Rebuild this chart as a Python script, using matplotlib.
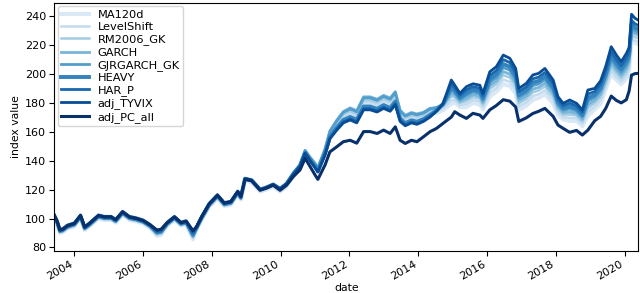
import numpy as np
import pandas as pd
import matplotlib
matplotlib.use("Agg")
import matplotlib.pyplot as plt
import matplotlib.dates as mdates

# decimal-year dates
years = [2003.42, 2003.50, 2003.58, 2003.66, 2003.80, 2004.00, 2004.18, 2004.30, 2004.44, 2004.70,
         2004.87, 2005.07, 2005.20, 2005.40, 2005.60, 2005.80, 2006.00, 2006.20, 2006.40, 2006.52,
         2006.70, 2006.91, 2007.10, 2007.25, 2007.45, 2007.55, 2007.70, 2007.92, 2008.16, 2008.36,
         2008.55, 2008.75, 2008.84, 2008.96, 2009.15, 2009.40, 2009.59, 2009.78, 2009.98, 2010.17,
         2010.37, 2010.56, 2010.71, 2010.85, 2011.00, 2011.08, 2011.29, 2011.43, 2011.63, 2011.82,
         2012.02, 2012.21, 2012.41, 2012.60, 2012.80, 2012.99, 2013.18, 2013.33, 2013.47, 2013.62,
         2013.80, 2013.96, 2014.15, 2014.34, 2014.53, 2014.72, 2014.96, 2015.06, 2015.21, 2015.40,
         2015.59, 2015.79, 2015.88, 2016.08, 2016.27, 2016.47, 2016.66, 2016.83, 2016.92, 2017.14,
         2017.33, 2017.50, 2017.68, 2017.92, 2018.06, 2018.21, 2018.40, 2018.60, 2018.77, 2018.93,
         2019.13, 2019.30, 2019.45, 2019.61, 2019.76, 2019.90, 2020.05, 2020.13, 2020.20, 2020.30,
         2020.39]

MA120d = [100, 96, 90, 90.5, 93, 94.5, 100, 92, 94.5, 100,
          99, 99, 97, 102.5, 99, 98, 96.5, 93.5, 88, 88.5,
          95, 99, 95, 96, 85.5, 92, 99, 108, 114, 108.5,
          109.5, 116.5, 113, 126, 125, 118.5, 120, 122, 118.5, 122,
          130, 135, 145.9, 141, 136.3, 133.3, 145.8, 157.3, 163.9, 169.3,
          171.5, 169.5, 178.8, 178.8, 177.2, 179.8, 177.8, 182.3, 170.3, 167.1,
          169, 168, 169.7, 172.5, 172.8, 174.7, 179, 180.1, 176.7, 176.8,
          179.7, 178.6, 175.2, 184.2, 187.4, 192.8, 191.4, 186.3, 175, 177.8,
          181.8, 183.2, 185.7, 179.3, 171.4, 168.3, 167.3, 167.3, 163.7, 170.7,
          175.3, 179.1, 189.1, 199.8, 195.6, 192.6, 196.4, 201.5, 222.1, 221,
          220.4]

LevelShift = [100.5, 96.5, 90.5, 91, 93.5, 95, 100.5, 92.5, 95, 100.5,
              99.5, 99.5, 97.5, 103, 99.5, 98.5, 97, 94, 89, 89.5,
              95.5, 99.5, 95.5, 96.5, 86.5, 92.5, 99.5, 108.5, 114.5, 109,
              110, 117, 113.5, 126.5, 125.5, 119, 120.5, 122.5, 119, 122.5,
              130.5, 135.5, 146.2, 141.4, 136.8, 133.8, 146.5, 158.2, 165, 170.6,
              172.9, 170.9, 180.3, 180.3, 178.7, 181.3, 179.4, 183.8, 171.6, 168.3,
              170.2, 169.2, 170.7, 173.5, 174, 176.1, 181.5, 181.9, 178.2, 179,
              181.8, 180.7, 176.9, 186.8, 190.1, 195.9, 194.3, 189, 177.3, 180.2,
              184.5, 185.8, 188.4, 181.8, 173.3, 170, 169.5, 169.2, 165.4, 173.5,
              177.5, 181.5, 191.1, 202.2, 197.8, 194.6, 198.6, 203.6, 224.2, 222.9,
              222.3]

RM2006_GK = [100.5, 96.5, 90.5, 91, 93.5, 95, 100.5, 92.5, 95, 100.5,
             99.5, 99.5, 97.5, 103, 99.5, 98.5, 97, 94, 89, 89.5,
             95.5, 99.5, 95.5, 96.5, 87, 92.5, 99.5, 108.5, 114.5, 109,
             110, 117, 113.5, 127, 126, 119.5, 121, 123, 119.5, 123,
             131, 136.5, 146.6, 141.8, 137.3, 134.3, 147.2, 159.1, 166.2, 171.9,
             174.3, 172.3, 181.8, 181.8, 180.2, 182.8, 180.9, 185.3, 172.9, 169.5,
             171.4, 170.4, 171.8, 174.5, 175.2, 177.4, 184.1, 183.8, 179.7, 181.1,
             183.8, 182.7, 178.6, 189.5, 192.7, 198.9, 197.3, 191.6, 179.5, 182.6,
             187.1, 188.4, 191.2, 184.3, 175.3, 171.7, 171.8, 171.1, 167.1, 176.2,
             179.8, 184, 193.4, 205, 200.3, 196.8, 201.1, 206, 226.7, 225.2,
             224.5]

GARCH = [101, 97, 91, 91.5, 94, 95.5, 101, 93, 95.5, 101,
         100, 100, 98, 103.5, 100, 99, 97.5, 94.5, 89.5, 90.5,
         96, 100, 96, 97, 87.5, 93, 100, 109, 115, 109.5,
         110.5, 117.5, 114, 127.5, 126.5, 120, 121.5, 123.5, 120.5, 124,
         131.5, 137, 147.1, 142.4, 138, 135, 148.2, 160.4, 167.9, 173.8,
         176.4, 174.4, 184, 184, 182.4, 185, 183.2, 187.6, 174.8, 171.3,
         173.2, 172.2, 173.4, 176.1, 176.4, 178.1, 186.1, 185.2, 180.9, 182.9,
         185.5, 184.4, 180, 191.6, 194.9, 201.4, 199.6, 193.8, 181.4, 184.5,
         189.3, 190.5, 193.4, 186.3, 176.9, 173.1, 173.5, 172.6, 168.5, 178.5,
         181.5, 185.9, 195.4, 207.3, 202.5, 198.8, 203.4, 208.1, 229.2, 227.5,
         226.7]

GJRGARCH_GK = [101, 97, 91, 91.5, 94, 95.5, 101, 93, 95.5, 101,
               100, 100, 98, 103.5, 100, 99, 97.5, 94.5, 90, 90.5,
               96, 100, 96, 97, 88, 93, 100, 109, 115, 109.5,
               110.5, 117.5, 114, 127.5, 126.5, 120, 121.5, 123.5, 120.5, 124,
               131.5, 137, 146.9, 142.2, 137.8, 134.8, 147.9, 160, 167.3, 173.2,
               175.7, 173.7, 183.3, 183.3, 181.6, 184.3, 182.4, 186.9, 174.2, 170.7,
               172.6, 171.6, 172.8, 175.6, 176.6, 178.8, 188.4, 186.9, 182.2, 184.9,
               187.3, 186.2, 181.6, 193.9, 197.3, 204.2, 202.3, 196.2, 183.4, 186.6,
               191.7, 192.9, 195.9, 188.6, 178.6, 174.7, 175.6, 174.3, 170.1, 180.9,
               183.6, 188.1, 197.5, 209.7, 204.7, 200.8, 205.6, 210.2, 231.3, 229.4,
               228.5]

HEAVY = [101.5, 97.5, 91.5, 92, 94.5, 96, 101.5, 93.5, 96, 101.5,
         100.5, 100.5, 98.5, 104, 100.5, 99.5, 98, 95, 90.5, 91,
         96.5, 100.5, 96.5, 97.5, 89, 93.5, 100.5, 109.5, 115.5, 110,
         111, 118, 114.5, 127.5, 126.5, 120, 121.5, 123.5, 120.5, 124,
         131, 136.5, 145.5, 140.6, 135.8, 132.8, 145.1, 156.4, 162.7, 168,
         170.1, 168.1, 177.3, 177.3, 175.7, 178.3, 176.3, 180.8, 169, 165.8,
         167.8, 166.8, 168.6, 171.5, 174.6, 179, 190.5, 188.3, 183.4, 186.6,
         188.9, 187.9, 182.9, 196, 199.4, 206.6, 204.7, 198.3, 185.2, 188.5,
         193.8, 195, 198.1, 190.6, 180.2, 176, 177.3, 175.8, 171.4, 183.2,
         185.3, 190.1, 199.8, 212.5, 207.2, 203.1, 208.2, 212.6, 233.9, 231.7,
         230.7]

HAR_P = [102, 98, 92, 92.5, 95, 96.5, 102, 94, 96.5, 102,
         101, 101, 99, 104.5, 101, 100, 98.5, 95.5, 91, 91.5,
         97, 101, 97, 98, 90, 94, 101, 110, 116, 110.5,
         111.5, 118.5, 115, 127.5, 126.5, 120, 121.5, 123.5, 120.5, 124,
         130.5, 136, 145.2, 140.2, 135.3, 132.3, 144.4, 155.5, 161.6, 166.7,
         168.7, 166.7, 175.8, 175.8, 174.2, 176.8, 174.8, 179.3, 167.7, 164.6,
         166.6, 165.6, 167.5, 170.5, 174.2, 179.1, 193, 190.2, 184.9, 188.8,
         191, 189.9, 184.7, 198.7, 202.1, 209.7, 207.6, 200.9, 187.5, 190.9,
         196.4, 197.6, 200.8, 193.1, 182.1, 177.8, 179.6, 177.6, 173.2, 185.9,
         187.6, 192.6, 202.1, 215.2, 209.7, 205.4, 210.7, 215, 236.8, 234.4,
         233.3]

adj_TYVIX = [102.5, 98.5, 92.5, 93, 95.5, 97, 102.5, 94.5, 97, 102.5,
             101.5, 101.5, 99.5, 105, 101.5, 100.5, 99, 96, 92, 92.5,
             97.5, 101.5, 97.5, 98.5, 91.5, 94.5, 101.5, 110.5, 116.5, 111,
             112, 119, 115.5, 127.5, 126.5, 120, 121.5, 123.5, 120.5, 124,
             130.5, 136, 145, 140, 135, 132, 144, 155, 161, 166,
             168, 166, 175, 175, 173.5, 176, 174, 178.5, 167, 164,
             166, 165, 167, 170, 174, 179.5, 195.6, 192, 186.4, 191,
             193, 192, 186.4, 201.3, 204.8, 212.8, 210.6, 203.6, 189.8, 193.3,
             199.1, 200.2, 203.6, 195.6, 184.1, 179.5, 181.8, 179.5, 174.9, 188.7,
             189.8, 195, 205, 218.6, 212.8, 208.2, 213.9, 218, 241, 238.2,
             237]

adj_PC_all = [102, 98, 92, 92.5, 95, 96.5, 102, 94, 96.5, 102,
              101, 101, 99, 104.5, 101, 100, 98.5, 95.5, 92, 92.5,
              97, 101, 97, 98, 91.5, 94, 101, 110, 116, 110.5,
              111.5, 118.5, 115, 127, 126, 119.5, 121, 123, 119.5, 123,
              129, 133.5, 141.5, 136, 130, 127, 137, 146, 149.5, 153,
              154, 152, 160, 160, 158.7, 161, 158.7, 163.3, 154, 151.8,
              154, 153, 156.4, 159.9, 162.2, 165.7, 170, 173.7, 171.4, 169.1,
              172.6, 171.4, 169.1, 175, 178, 182, 181, 177, 167, 169.5,
              172.5, 174, 176, 170.5, 164.5, 162.2, 159.5, 160.8, 157.6, 161,
              167.5, 170.5, 176, 184.5, 181.5, 179.8, 182, 188, 199, 200,
              200.2]

series_names = ["MA120d", "LevelShift", "RM2006_GK", "GARCH", "GJRGARCH_GK",
                "HEAVY", "HAR_P", "adj_TYVIX", "adj_PC_all"]
series_values = [MA120d, LevelShift, RM2006_GK, GARCH, GJRGARCH_GK,
                 HEAVY, HAR_P, adj_TYVIX, adj_PC_all]


def to_date(y):
    yr = int(y)
    start = pd.Timestamp(year=yr, month=1, day=1)
    end = pd.Timestamp(year=yr + 1, month=1, day=1)
    return start + (end - start) * (y - yr)


dates = pd.DatetimeIndex([to_date(y) for y in years])
df = pd.DataFrame(dict(zip(series_names, series_values)), index=dates)

colors = plt.cm.Blues(np.linspace(0.15, 1.0, 9))
widths = [2.8, 1.8, 1.8, 2.0, 2.0, 2.8, 2.0, 2.0, 2.2]

fig = plt.figure(figsize=(6.4, 2.93), dpi=100)
ax = fig.add_axes([0.085, 0.143, 0.912, 0.847])
for name, c, w in zip(series_names, colors, widths):
    ax.plot(df.index, df[name], color=c, lw=w, label=name)

ax.set_xlim(df.index[0], df.index[-1])
ax.set_ylim(77.5, 248.8)
ax.set_yticks(np.arange(80, 241, 20))
ax.xaxis.set_major_locator(mdates.YearLocator(2))
ax.xaxis.set_major_formatter(mdates.DateFormatter("%Y"))
ax.tick_params(labelsize=8, length=3.5, pad=2.5)
for lab in ax.get_xticklabels():
    lab.set_rotation(30)
    lab.set_ha("right")
ax.set_xlabel("date", fontsize=7.8)
ax.xaxis.set_label_coords(0.5, -0.13)
ax.set_ylabel("index value", fontsize=7.8, labelpad=3)
leg = ax.legend(loc="upper left", fontsize=8.2, handlelength=2.4,
                borderaxespad=0.3, labelspacing=0.2, borderpad=0.3)
leg.get_frame().set_edgecolor("#cccccc")

fig.savefig("out.png", dpi=100)
